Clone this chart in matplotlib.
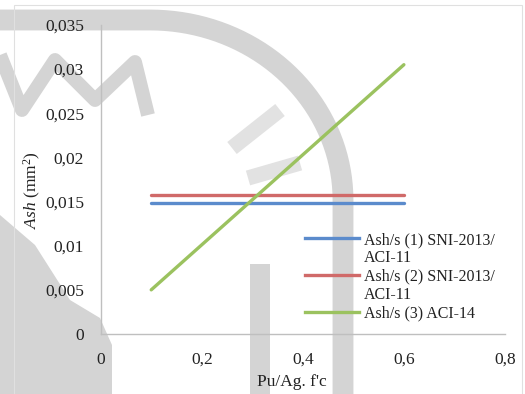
import matplotlib
matplotlib.use("Agg")
import matplotlib.pyplot as plt
import numpy as np
from matplotlib.lines import Line2D
from matplotlib.patches import Rectangle, Polygon

# data
pu_ag_fc = [0.1, 0.2, 0.3, 0.4, 0.5, 0.6]
ash_1 = [0.0148, 0.0148, 0.0148, 0.0148, 0.0148, 0.0148]
ash_2 = [0.0157, 0.0157, 0.0157, 0.0157, 0.0157, 0.0157]
ash_3 = [0.0050, 0.0101, 0.0152, 0.0203, 0.0254, 0.0305]

labels = ["Ash/s (1) SNI-2013/\nACI-11", "Ash/s (2) SNI-2013/\nACI-11", "Ash/s (3) ACI-14"]
colors = ["#5b8bcc", "#d06a69", "#9bc25f"]
xticks = [0, 0.2, 0.4, 0.6, 0.8]
yticks = [0, 0.005, 0.01, 0.015, 0.02, 0.025, 0.03, 0.035]

plt.rcParams["font.family"] = ["Liberation Serif", "DejaVu Serif"]
plt.rcParams["mathtext.fontset"] = "custom"
plt.rcParams["mathtext.rm"] = "Liberation Serif"
plt.rcParams["mathtext.it"] = "Liberation Serif:italic"

W, H = 525, 394
fig = plt.figure(figsize=(W / 100, H / 100), dpi=100)


def px(x, y):
    return (x / W, 1 - y / H)


def stroke(pts, color, lw):
    xs = [px(*p)[0] for p in pts]
    ys = [px(*p)[1] for p in pts]
    fig.add_artist(Line2D(xs, ys, transform=fig.transFigure, color=color, lw=lw,
                          zorder=0, solid_capstyle="butt", solid_joinstyle="round"))


# faint grey watermark behind the chart (decoration only)
wm = "#d4d4d4"
t = np.linspace(np.pi / 2, 0, 40)
band = [(0, 20)] + [(150 + 193 * np.cos(a), 200 - 180 * np.sin(a)) for a in t] + [(343, 400)]
stroke(band, wm, 15)
stroke([(0, 55), (22, 110), (55, 60), (95, 100), (135, 62), (148, 115)], wm, 10)
left_blob = [(0, 215), (35, 245), (70, 300), (100, 318), (112, 345), (112, 394), (0, 394)]
fig.add_artist(Polygon([px(*p) for p in left_blob], closed=True,
                       transform=fig.transFigure, color=wm, lw=0, zorder=0))
stroke([(232, 148), (280, 110)], "#e2e2e2", 11)
stroke([(248, 178), (300, 163)], "#e2e2e2", 11)
fig.add_artist(Rectangle(px(250, 394), 20 / W, 130 / H, transform=fig.transFigure,
                         color=wm, lw=0, zorder=0))
# chart area border
fig.add_artist(Rectangle(px(14, 420), 508 / W, 415 / H, transform=fig.transFigure,
                         fill=False, ec="#e0e0e0", lw=0.8, zorder=1))

ax = fig.add_axes([0.1918, 0.1523, 0.770, 0.7843])
ax.set_facecolor("none")

ax.plot(pu_ag_fc, ash_1, color=colors[0], lw=2.4, solid_capstyle="round", label=labels[0])
ax.plot(pu_ag_fc, ash_2, color=colors[1], lw=2.4, solid_capstyle="round", label=labels[1])
ax.plot(pu_ag_fc, ash_3, color=colors[2], lw=2.4, solid_capstyle="round", label=labels[2])

ax.set_xlim(0, 0.8)
ax.set_ylim(0, 0.035)
ax.set_xticks(xticks)
ax.set_yticks(yticks)
ax.set_xticklabels([f"{v:g}".replace(".", ",") for v in xticks])
ax.set_yticklabels([f"{v:g}".replace(".", ",") for v in yticks])
ax.tick_params(length=0, labelsize=12.5, colors="#222222")
ax.tick_params(axis="y", pad=12)
ax.tick_params(axis="x", pad=13)

for side in ["top", "right"]:
    ax.spines[side].set_visible(False)
for side in ["left", "bottom"]:
    ax.spines[side].set_color("#bfbfbf")
    ax.spines[side].set_linewidth(1.0)

ax.set_xlabel("Pu/Ag. f'c", fontsize=12.5, color="#222222")
ax.xaxis.set_label_coords(0.473, -0.155)
ax.xaxis.label.set_va("center")
ax.set_ylabel(r"$\it{Ash}$ (mm$^2$)", fontsize=12.5, color="#222222")
ax.yaxis.set_label_coords(-0.17, 0.466)
ax.yaxis.label.set_va("center")

# legend: handle sits on the first line of each label
blank = Line2D([], [], color="none")
handles = [Line2D([], [], color=colors[0], lw=2.4), blank,
           Line2D([], [], color=colors[1], lw=2.4), blank,
           Line2D([], [], color=colors[2], lw=2.4)]
texts = []
for lab in labels:
    texts.extend(lab.split("\n"))
leg = ax.legend(handles, texts, loc="upper left", bbox_to_anchor=(0.505, 0.33),
                frameon=False, fontsize=11.5, handlelength=3.4, handletextpad=0.3,
                labelspacing=0.15, borderpad=0, borderaxespad=0)
for t in leg.get_texts():
    t.set_color("#222222")

fig.savefig("out.png", dpi=100)
